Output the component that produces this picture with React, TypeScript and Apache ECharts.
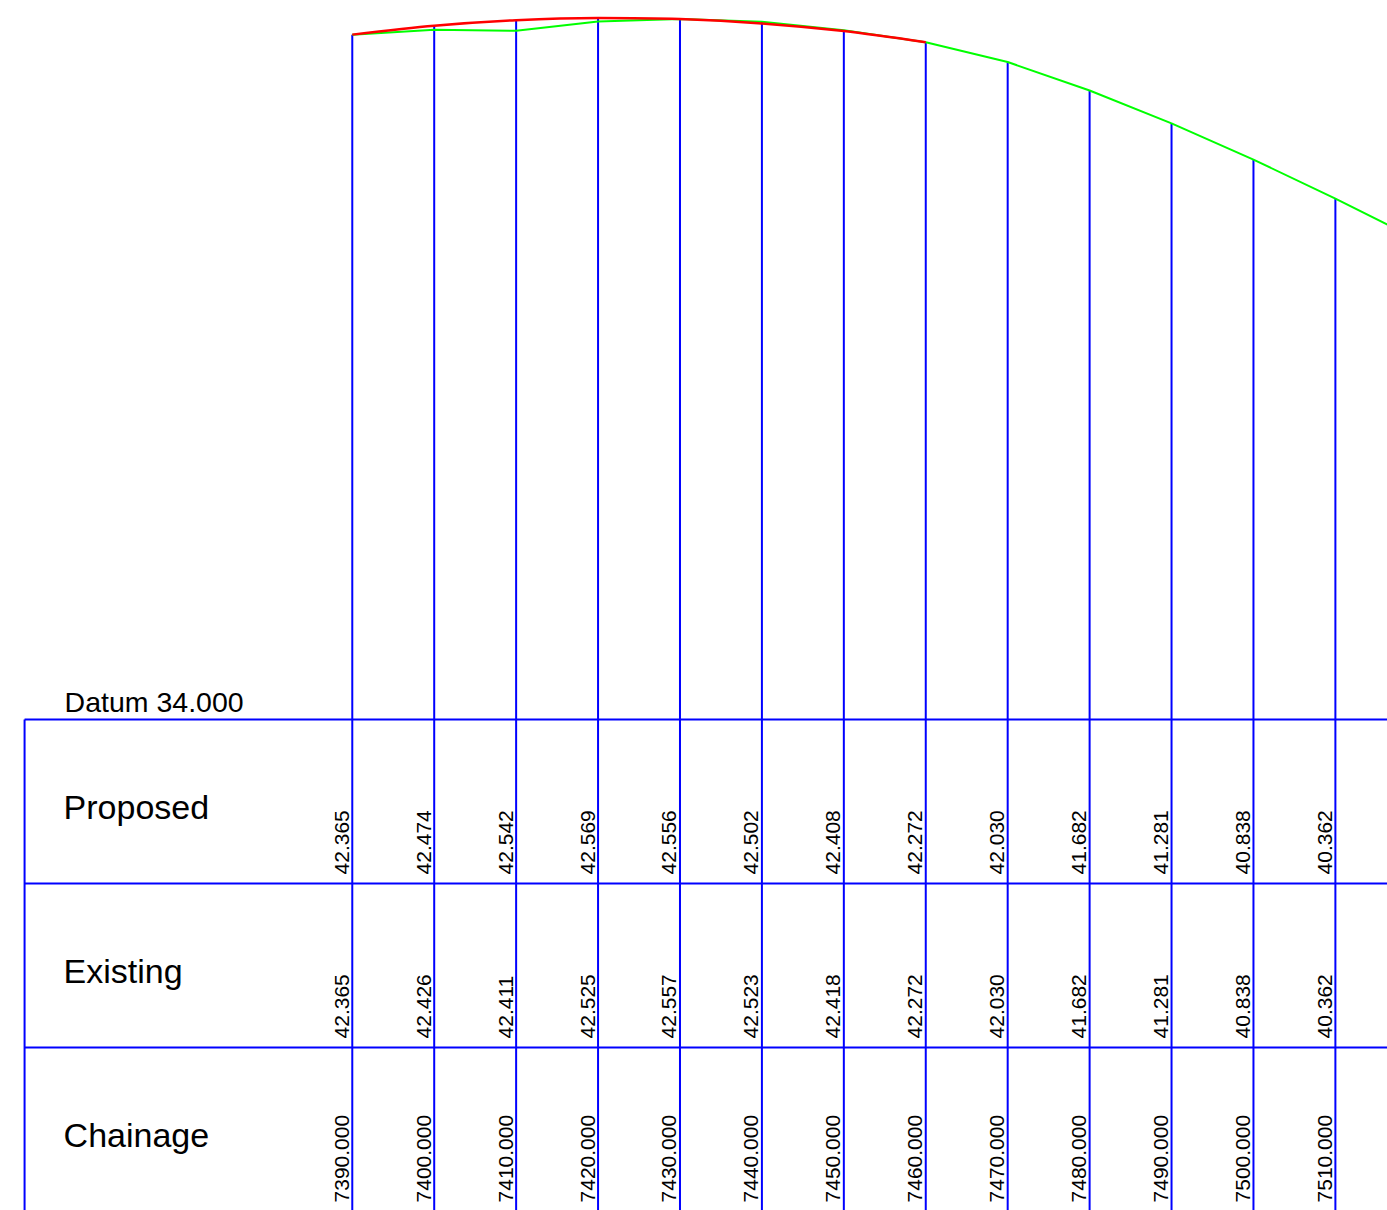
import React, { useEffect, useRef } from "react";
import * as echarts from "echarts";

// ---- data ----
const chainages = [7390, 7400, 7410, 7420, 7430, 7440, 7450, 7460, 7470, 7480, 7490, 7500, 7510, 7520];
const proposed = [42.365, 42.474, 42.542, 42.569, 42.556, 42.502, 42.408, 42.272, 42.030, 41.682, 41.281, 40.838, 40.362, 39.861];
const existing = [42.365, 42.426, 42.411, 42.525, 42.557, 42.523, 42.418, 42.272, 42.030, 41.682, 41.281, 40.838, 40.362, 39.861];
const proposedLineEnd = 7460; // the red proposed line is drawn up to this chainage
const rowLabels = ["Proposed", "Existing", "Chainage"];
const datum = 34;
const tableStart = 7350;

// ---- view / style ----
const X_MIN = 7347;
const X_MAX = 7516.3;
const Y_MIN = 28.008;
const Y_MAX = 42.788;
const ROW_H = 164;
const BLUE = "#0000ff";
const RED = "#ff0000";
const GREEN = "#00ff00";
const FONT = "'Liberation Sans', Arial, Helvetica, sans-serif";

export default function App() {
  const ref = useRef<HTMLDivElement>(null);

  useEffect(() => {
    if (!ref.current) return;
    const chart = echarts.init(ref.current, undefined, { renderer: "svg" });

    const existingData = chainages.map((c, i) => [c, existing[i]]);
    const proposedData = chainages
      .map((c, i) => [c, proposed[i]])
      .filter((d) => d[0] <= proposedLineEnd);
    // stations whose vertical and labels fall inside the visible sheet
    const stationData = chainages
      .map((c, i) => [c, Math.max(proposed[i], existing[i]), proposed[i], existing[i]])
      .filter((d) => d[0] <= X_MAX);

    const option: any = {
      animation: false,
      grid: { left: 0, right: 0, top: 0, bottom: 0, containLabel: false },
      xAxis: {
        type: "value",
        min: X_MIN,
        max: X_MAX,
        show: false,
        splitLine: { show: false },
      },
      yAxis: {
        type: "value",
        min: Y_MIN,
        max: Y_MAX,
        show: false,
        splitLine: { show: false },
      },
      series: [
        {
          type: "custom",
          name: "table",
          z: 1,
          silent: true,
          clip: false,
          data: [[tableStart, datum]],
          renderItem: (params: any, api: any) => {
            const p = api.coord([api.value(0), api.value(1)]);
            const x0 = p[0];
            const y0 = p[1];
            const W = api.getWidth();
            const H = api.getHeight();
            const children: any[] = [];
            for (let r = 0; r < rowLabels.length; r++) {
              const yy = y0 + r * ROW_H;
              children.push({
                type: "line",
                shape: { x1: x0, y1: yy, x2: W, y2: yy },
                style: { stroke: BLUE, lineWidth: 2 },
              });
              children.push({
                type: "text",
                x: x0 + 39,
                y: yy + 87.5,
                style: {
                  text: rowLabels[r],
                  fontSize: 34,
                  fontFamily: FONT,
                  fill: "#000",
                  align: "left",
                  verticalAlign: "middle",
                },
              });
            }
            children.push({
              type: "line",
              shape: { x1: x0, y1: y0, x2: x0, y2: H },
              style: { stroke: BLUE, lineWidth: 2 },
            });
            children.push({
              type: "text",
              x: x0 + 40,
              y: y0 - 17,
              style: {
                text: "Datum " + api.value(1).toFixed(3),
                fontSize: 28.5,
                fontFamily: FONT,
                fill: "#000",
                align: "left",
                verticalAlign: "middle",
              },
            });
            return { type: "group", children };
          },
        },
        {
          type: "custom",
          name: "stations",
          z: 2,
          silent: true,
          clip: false,
          data: stationData,
          encode: { x: 0, y: 1 },
          renderItem: (params: any, api: any) => {
            const ch = api.value(0);
            const top = api.coord([ch, api.value(1)]);
            const datumPt = api.coord([ch, datum]);
            const H = api.getHeight();
            const x = top[0];
            const texts = [
              api.value(2).toFixed(3),
              api.value(3).toFixed(3),
              ch.toFixed(3),
            ];
            const children: any[] = [
              {
                type: "line",
                shape: { x1: x, y1: top[1], x2: x, y2: H },
                style: { stroke: BLUE, lineWidth: 2 },
              },
            ];
            texts.forEach((t, r) => {
              const rowBottom = datumPt[1] + (r + 1) * ROW_H;
              children.push({
                type: "text",
                x: x - 11,
                y: rowBottom - 9,
                rotation: Math.PI / 2,
                style: {
                  text: t,
                  fontSize: 21,
                  fontFamily: FONT,
                  fill: "#000",
                  align: "left",
                  verticalAlign: "middle",
                },
              });
            });
            return { type: "group", children };
          },
        },
        {
          type: "line",
          name: "Existing",
          z: 3,
          data: existingData,
          symbol: "none",
          lineStyle: { color: GREEN, width: 2 },
          silent: true,
        },
        {
          type: "line",
          name: "Proposed",
          z: 4,
          data: proposedData,
          symbol: "none",
          smooth: 0.3,
          lineStyle: { color: RED, width: 2.5 },
          silent: true,
        },
      ],
    };

    chart.setOption(option);
    return () => {
      chart.dispose();
    };
  }, []);

  return (
    <div
      ref={ref}
      style={{ position: "absolute", left: 0, top: 0, width: 1387, height: 1210, background: "#fff" }}
    />
  );
}
